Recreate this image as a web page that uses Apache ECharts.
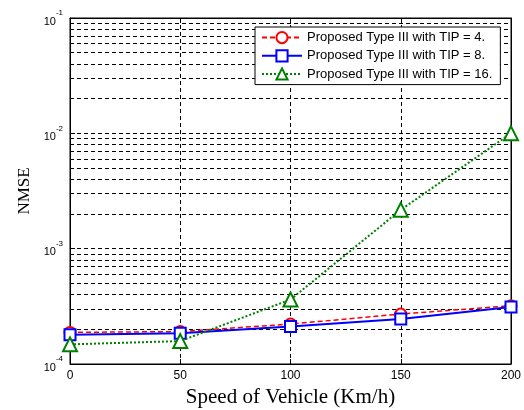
<!DOCTYPE html>
<html>
<head>
<meta charset="utf-8">
<script src="https://cdn.jsdelivr.net/npm/echarts@6/dist/echarts.min.js"></script>
<style>
  html, body { margin: 0; padding: 0; background: #fff; }
  #main { width: 524px; height: 410px; }
</style>
</head>
<body>
<div id="main"></div>
<script>
// 数据
const speeds = [0, 50, 100, 150, 200];
const tip4 = [1.88e-4, 1.91e-4, 2.22e-4, 2.71e-4, 3.2e-4];
const tip8 = [1.79e-4, 1.85e-4, 2.11e-4, 2.46e-4, 3.12e-4];
const tip16 = [1.48e-4, 1.58e-4, 3.62e-4, 2.17e-3, 1.0e-2];
const seriesNames = [
  "Proposed Type III with TIP = 4.",
  "Proposed Type III with TIP = 8.",
  "Proposed Type III with TIP = 16.",
];
// 对数轴的次网格线 (2..9 x 10^n)
const minorLines = [];
[1e-4, 1e-3, 1e-2].forEach((d) => {
  for (let k = 2; k <= 9; k++) minorLines.push(+(d * k).toPrecision(3));
});
const expLabels = { "0.0001": "-4", "0.001": "-3", "0.01": "-2", "0.1": "-1" };

const chart = echarts.init(document.getElementById("main"));
const pair = (arr) => speeds.map((x, i) => [x, arr[i]]);
const dashGrid = { show: true, lineStyle: { color: "#000", type: [4, 3], width: 1 } };

const option = {
  backgroundColor: "#fff",
  animation: false,
  textStyle: { fontFamily: "Liberation Sans" },
  grid: {
    left: 70, right: 13, top: 18, bottom: 46,
    outerBoundsMode: "none", containLabel: false,
    show: true, borderColor: "#000", borderWidth: 1,
  },
  legend: {
    data: seriesNames,
    orient: "vertical",
    left: 255, top: 27,
    padding: [4, 8, 4, 6],
    itemWidth: 40, itemHeight: 14, itemGap: 5,
    backgroundColor: "#fff",
    borderColor: "#000", borderWidth: 1,
    textStyle: { fontSize: 13, color: "#000", fontFamily: "Liberation Sans" },
  },
  xAxis: [
    {
      type: "value", min: 0, max: 200, interval: 50,
      name: "Speed of Vehicle (Km/h)", nameLocation: "middle", nameGap: 23,
      nameTextStyle: { fontFamily: "Liberation Serif", fontSize: 21, color: "#000" },
      axisLine: { show: true, onZero: false, lineStyle: { color: "#000" } },
      axisTick: { inside: true, length: 5, lineStyle: { color: "#000" } },
      axisLabel: { fontSize: 12, color: "#000", margin: 6 },
      splitLine: dashGrid,
    },
    {
      type: "value", min: 0, max: 200, interval: 50, position: "top",
      axisLine: { show: true, onZero: false, lineStyle: { color: "#000" } },
      axisTick: { inside: true, length: 5, lineStyle: { color: "#000" } },
      axisLabel: { show: false }, splitLine: { show: false },
    },
  ],
  yAxis: [
    {
      type: "log", logBase: 10, min: 1e-4, max: 1e-1,
      name: "NMSE", nameLocation: "middle", nameGap: 31,
      nameTextStyle: { fontFamily: "Liberation Serif", fontSize: 17, color: "#000" },
      axisLine: { show: true, onZero: false, lineStyle: { color: "#000" } },
      axisTick: { inside: true, length: 5, lineStyle: { color: "#000" } },
      axisLabel: {
        color: "#000", margin: 7,
        formatter: (v) => "{b|10}{s|" + (expLabels[String(v)] || "") + "}",
        rich: {
          b: { fontSize: 11, color: "#000", verticalAlign: "bottom", lineHeight: 18 },
          s: { fontSize: 8, color: "#000", verticalAlign: "top", lineHeight: 18 },
        },
      },
      splitLine: dashGrid,
    },
    {
      type: "log", logBase: 10, min: 1e-4, max: 1e-1, position: "right",
      axisLine: { show: true, onZero: false, lineStyle: { color: "#000" } },
      axisTick: { inside: true, length: 5, lineStyle: { color: "#000" } },
      axisLabel: { show: false }, splitLine: { show: false },
    },
  ],
  series: [
    {
      // 次网格线
      type: "lines", coordinateSystem: "cartesian2d", silent: true, z: 1,
      lineStyle: { color: "#000", type: [4, 3], width: 1, opacity: 1 },
      data: minorLines.map((v) => ({ coords: [[0, v], [200, v]] })),
    },
    {
      name: seriesNames[0],
      type: "line", data: pair(tip4), color: "#ff0000",
      symbol: "emptyCircle", symbolSize: 11,
      lineStyle: { width: 1.5, type: [5, 3], color: "#ff0000" },
      itemStyle: { borderWidth: 1.5 }, z: 3,
    },
    {
      name: seriesNames[1],
      type: "line", data: pair(tip8), color: "#0000ff",
      symbol: "emptyRect", symbolSize: 11,
      lineStyle: { width: 2, type: "solid", color: "#0000ff" },
      itemStyle: { borderWidth: 1.5 }, z: 4,
    },
    {
      name: seriesNames[2],
      type: "line", data: pair(tip16), color: "#008000",
      symbol: "emptyTriangle", symbolSize: 14,
      lineStyle: { width: 2, type: [2, 2], color: "#008000" },
      itemStyle: { borderWidth: 1.5 }, z: 5,
    },
  ],
};
chart.setOption(option);
</script>
</body>
</html>
